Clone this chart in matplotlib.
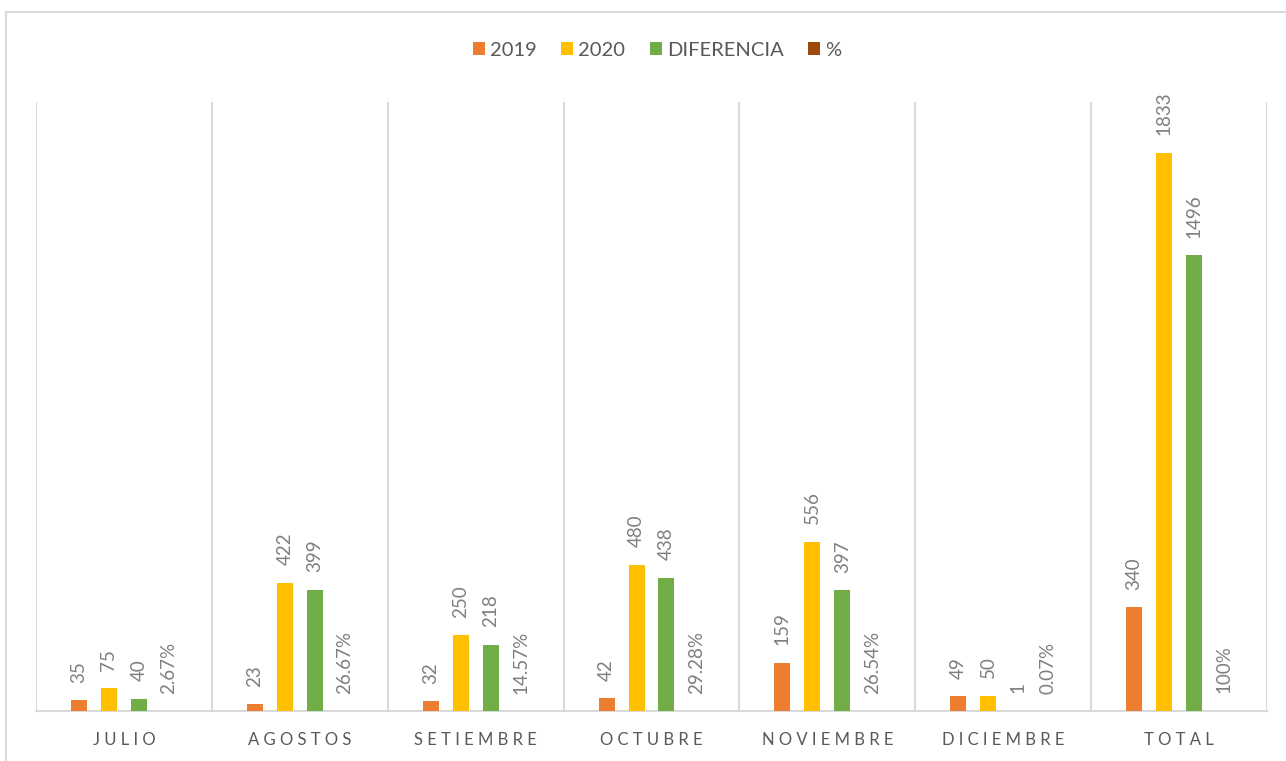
import numpy as np
import matplotlib
matplotlib.use('Agg')
from matplotlib import pyplot as plt
from matplotlib.patches import Rectangle


categories = ['JULIO', 'AGOSTOS', 'SETIEMBRE', 'OCTUBRE', 'NOVIEMBRE', 'DICIEMBRE', 'TOTAL']
v2019 = [35, 23, 32, 42, 159, 49, 340]
v2020 = [75, 422, 250, 480, 556, 50, 1833]
diferencia = [40, 399, 218, 438, 397, 1, 1496]
pct = [2.67, 26.67, 14.57, 29.28, 26.54, 0.07, 100]

series_names = ['2019', '2020', 'DIFERENCIA', '%']
colors = ['#ED7D31', '#FFC000', '#70AD47', '#9E480E']

grid_color = '#D9D9D9'
text_color = '#595959'
label_color = '#7F7F7F'


def main():
    plt.rcParams['font.family'] = ['Lato', 'DejaVu Sans']
    fig = plt.figure(figsize=(12.86, 7.61), dpi=100)
    ax = fig.add_axes([36 / 1286, 1 - 711 / 761, (1267 - 36) / 1286, (711 - 102) / 761])

    x = np.arange(len(categories))
    spacing = 30 / 176
    width = 16 / 176

    heights = [v2019, v2020, diferencia, [p / 100 for p in pct]]
    labels = [[str(v) for v in v2019],
              [str(v) for v in v2020],
              [str(v) for v in diferencia],
              ['{:g}%'.format(p) for p in pct]]

    for i, (h, lab) in enumerate(zip(heights, labels)):
        pos = x + (i - 1.5) * spacing
        ax.bar(pos, h, width, color=colors[i], label=series_names[i], zorder=3)
        for px, py, t in zip(pos, h, lab):
            ax.annotate(t, (px, py), xytext=(0, 12.5), textcoords='offset points',
                        rotation=90, ha='center', va='bottom',
                        fontsize=13.5, color=label_color)

    ax.set_xlim(-0.5, len(categories) - 0.5)
    ax.set_ylim(0, 2000)
    for b in np.arange(len(categories) + 1) - 0.5:
        ax.axvline(b, color=grid_color, lw=1.5, zorder=1)

    for s in ['top', 'left', 'right']:
        ax.spines[s].set_visible(False)
    ax.spines['bottom'].set_color(grid_color)
    ax.spines['bottom'].set_linewidth(1.5)
    ax.set_yticks([])
    ax.set_xticks(x)
    ax.set_xticklabels([' '.join(c) for c in categories], fontsize=12, color=text_color)
    ax.tick_params(axis='x', length=0, pad=15)

    ax.legend(loc='center', bbox_to_anchor=(657 / 1286, (761 - 50) / 761), bbox_transform=fig.transFigure,
              ncol=4, frameon=False, fontsize=14.5, labelcolor=text_color,
              handlelength=0.6, handleheight=0.6, handletextpad=0.25, columnspacing=1.2)

    fig.patches.append(Rectangle((6 / 1286, -0.05), 1.1, 1 - 12 / 761 + 0.05,
                                 transform=fig.transFigure, fill=False,
                                 edgecolor=grid_color, lw=1.5))
    plt.savefig('out.png', dpi=100)


if __name__ == '__main__':
    main()
